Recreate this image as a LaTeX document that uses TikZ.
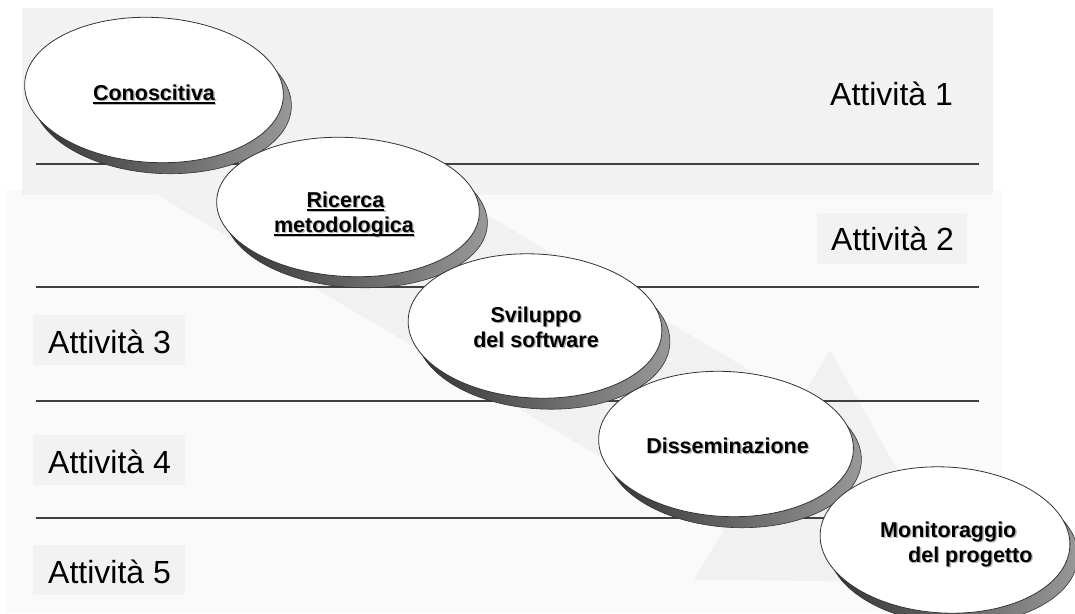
\documentclass[tikz,border=0pt]{standalone}
\usepackage{fontspec}
\setmainfont{Liberation Sans}
\usetikzlibrary{shapes.geometric}
\newcommand\myul[1]{\setbox0\hbox{#1}\rlap{\rule[-3.5pt]{\wd0}{1.4pt}}\box0}
\newcommand\efont{\fontsize{21.5}{25}\selectfont\bfseries}
\newcommand\lblfont{\fontsize{32}{36}\selectfont}
\definecolor{bandgray}{HTML}{F2F2F2}
\definecolor{lowgray}{HTML}{FAFAFA}
\definecolor{arrowgray}{HTML}{F1F1F1}
\definecolor{boxgray}{HTML}{F2F2F2}
\tikzset{
  ell/.style={ellipse, inner sep=0pt, outer sep=0pt, fill=white, draw=black!80, line width=0.8pt, rotate=-3},
  shad/.style={ellipse, inner sep=0pt, outer sep=0pt, left color=black!80, right color=black!40, draw=black!80, line width=0.6pt, rotate=-3},
  etext/.style={inner sep=0pt, anchor=base, font=\efont, text=black},
  lbl/.style={inner sep=0pt, anchor=base west, font=\lblfont, text=black},
  sepline/.style={draw=black!75, line width=1.3pt},
}
\newcommand\etxt[5][]{%
  \node[etext,#1, text=black!28] (#2s) at (#3+1.3,#4+1.3) {#5};
  \node[etext,#1] (#2) at (#3,#4) {#5};}
\newcommand\myoval[5]{% name, x, y, w, h
  \node[shad, minimum width=#4pt, minimum height=#5pt] (#1s) at (#2+8,#3+11) {};
  \node[ell, minimum width=#4pt, minimum height=#5pt] (#1) at (#2,#3) {};}
\begin{document}
\begin{tikzpicture}[x=1pt,y=-1pt]
\useasboundingbox (0,0) rectangle (1075,613);
\clip (0,0) rectangle (1075,613);
\fill[white] (0,0) rectangle (1075,613);
\fill[lowgray] (6,190) rectangle (1003,613);
% faint background arrow
\fill[arrowgray] (188,38) -- (800,400) -- (830,350) -- (960,582) -- (694,580) -- (724,530) -- (112,168) -- cycle;
% top band
\fill[bandgray] (22,8) rectangle (993,195);
% label boxes
\fill[boxgray] (817,213) rectangle (967,264);
\fill[boxgray] (33,315) rectangle (185,365);
\fill[boxgray] (33,435) rectangle (185,485);
\fill[boxgray] (33,545) rectangle (185,595);
% separator lines
\draw[sepline] (36,164) -- (979,164);
\draw[sepline] (36,287) -- (979,287);
\draw[sepline] (36,401) -- (979,401);
\draw[sepline] (36,518) -- (979,518);
% labels
\node[lbl] (a1) at (830,105) {Attività 1};
\node[lbl] (a2) at (831,250) {Attività 2};
\node[lbl] (a3) at (48,353) {Attività 3};
\node[lbl] (a4) at (48,473) {Attività 4};
\node[lbl] (a5) at (48,583) {Attività 5};
% ellipses
\myoval{e1}{154}{90}{259}{145}
\etxt{t1}{154}{100}{\myul{Conoscitiva}}
\myoval{e2}{348}{207}{263}{139}
\etxt{t2a}{345.5}{207}{\myul{Ricerca}}
\etxt{t2b}{344}{232}{\myul{metodologica}}
\myoval{e3}{535}{326}{254}{144}
\etxt{t3a}{536}{322}{Sviluppo}
\etxt{t3b}{536}{347}{del software}
\myoval{e4}{726}{444}{255}{145}
\etxt{t4}{727.5}{453}{Disseminazione}
\myoval{e5}{945}{540}{250}{146}
\etxt[anchor=base west]{t5a}{880}{537}{Monitoraggio}
\etxt[anchor=base west]{t5b}{908}{562}{del progetto}
\end{tikzpicture}
\end{document}
